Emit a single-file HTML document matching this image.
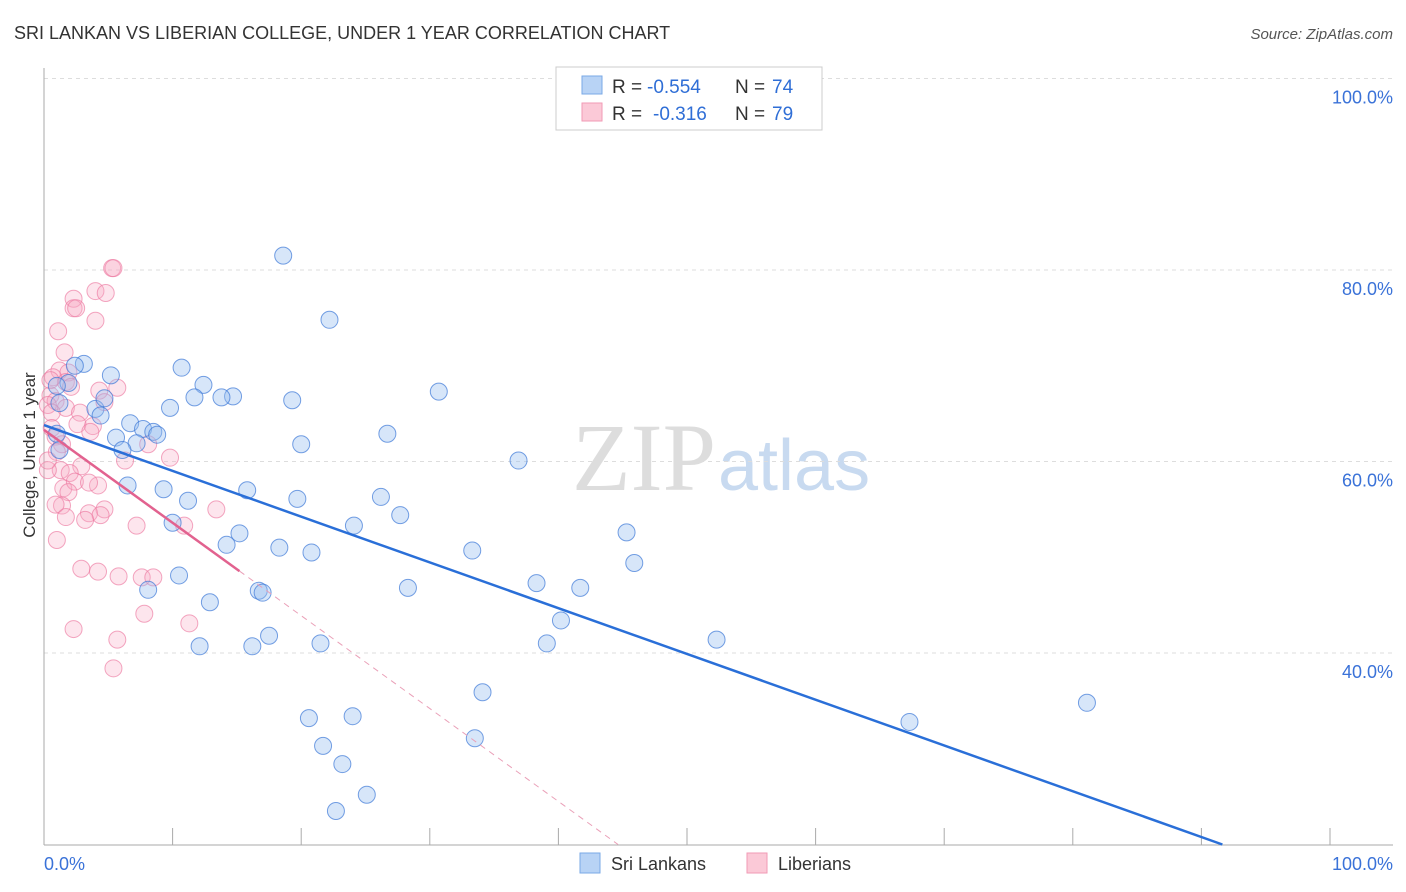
<!DOCTYPE html>
<html><head><meta charset="utf-8"><style>
body{margin:0;background:#fff;font-family:"Liberation Sans",sans-serif;}
svg{display:block}
</style></head><body>
<svg id="chart" width="1406" height="892">
<text x="14" y="39" font-size="18" fill="#333">SRI LANKAN VS LIBERIAN COLLEGE, UNDER 1 YEAR CORRELATION CHART</text>
<text x="1393" y="39" font-size="15" fill="#555" font-style="italic" text-anchor="end">Source: ZipAtlas.com</text>
<text x="716" y="490" font-size="96" fill="#ddd" text-anchor="end" font-family="Liberation Serif,serif">ZIP</text>
<text x="718" y="490" font-size="72" fill="#c8daf0">atlas</text>
<g id="grid"></g><g id="pts"></g><g id="lines"></g>
<text x="35" y="455" font-size="17" fill="#333" text-anchor="middle" transform="rotate(-90 35 455)">College, Under 1 year</text>
<g>
<rect x="556" y="67" width="266" height="63" fill="#fff" stroke="#ccc"/>
<rect x="582" y="76" width="20" height="18" fill="#b8d3f5" stroke="#7aa8e6"/>
<rect x="582" y="103" width="20" height="18" fill="#fbc9d7" stroke="#f29ab5"/>
<text x="612" y="93" font-size="19" fill="#333">R =</text>
<text x="647" y="93" font-size="19" fill="#2f6ed6">-0.554</text>
<text x="735" y="93" font-size="19" fill="#333">N =</text>
<text x="772" y="93" font-size="19" fill="#2f6ed6">74</text>
<text x="612" y="120" font-size="19" fill="#333">R =</text>
<text x="653" y="120" font-size="19" fill="#2f6ed6">-0.316</text>
<text x="735" y="120" font-size="19" fill="#333">N =</text>
<text x="772" y="120" font-size="19" fill="#2f6ed6">79</text>
</g>
<g>
<rect x="580" y="853" width="20" height="20" fill="#b8d3f5" stroke="#7aa8e6"/>
<text x="611" y="870" font-size="18" fill="#333">Sri Lankans</text>
<rect x="747" y="853" width="20" height="20" fill="#fbc9d7" stroke="#f29ab5"/>
<text x="778" y="870" font-size="18" fill="#333">Liberians</text>
</g>
</svg>
<script>
const yTicks=[40,60,80,100];
const xTickLabels=["0.0%","100.0%"];
const blueX=[18.6,22.2,10.7,12.4,14.7,13.8,11.7,9.8,19.3,30.7,26.7,20.0,36.9,5.2,3.1,2.4,1.9,1.0,1.2,4.0,4.4,4.7,5.6,6.7,7.7,8.5,8.8,7.2,6.1,6.5,1.0,1.2,9.3,15.8,11.2,19.7,26.2,24.1,27.7,10.0,15.2,14.2,18.3,20.8,33.3,45.3,45.9,10.5,8.1,16.7,17.0,28.3,38.3,41.7,40.2,12.9,39.1,52.3,17.5,16.2,12.1,21.5,34.1,20.6,24.0,21.7,23.2,33.5,67.3,81.1,25.1,22.7];
const blueY=[81.5,74.8,69.8,68.0,66.8,66.7,66.7,65.6,66.4,67.3,62.9,61.8,60.1,69.0,70.2,70.0,68.2,67.9,66.1,65.5,64.8,66.6,62.5,64.0,63.4,63.1,62.8,61.9,61.2,57.5,62.9,61.2,57.1,57.0,55.9,56.1,56.3,53.3,54.4,53.6,52.5,51.3,51.0,50.5,50.7,52.6,49.4,48.1,46.6,46.5,46.3,46.8,47.3,46.8,43.4,45.3,41.0,41.4,41.8,40.7,40.7,41.0,35.9,33.2,33.4,30.3,28.4,31.1,32.8,34.8,25.2,23.5];
const pinkX=[5.3,5.4,4.0,4.8,2.3,2.3,2.5,4.0,1.1,1.6,1.2,1.9,0.7,1.7,2.1,5.7,4.3,0.5,0.9,4.7,1.7,2.8,0.3,0.6,3.8,2.6,0.6,0.9,3.6,8.1,1.4,9.8,6.3,2.9,1.0,1.3,2.0,4.2,1.5,2.4,1.9,3.5,4.7,1.4,0.9,3.5,4.4,1.7,3.2,13.4,7.2,10.9,1.0,2.9,4.2,5.8,7.6,8.5,7.8,11.3,2.3,5.7,5.4,0.3,0.3,0.5];
const pinkY=[80.2,80.2,77.8,77.6,77.0,76.0,76.0,74.7,73.6,71.4,69.5,69.3,68.8,68.3,67.8,67.7,67.4,66.9,66.3,66.2,65.6,65.1,65.9,65.1,63.7,63.9,63.5,62.6,63.1,61.8,61.8,60.4,60.1,59.5,61.0,59.1,58.8,57.5,57.2,57.9,56.8,57.8,55.0,55.4,55.5,54.6,54.4,54.2,53.9,55.0,53.3,53.3,51.8,48.8,48.5,48.0,47.9,47.9,44.1,43.1,42.5,41.4,38.4,59.1,60.1,68.5];
const blueFit=[63.8,-0.478], pinkFit=[63.3,-0.97];
const X0=44,XS=12.86,Y0=1036,YS=9.575;
const sx=v=>X0+v*XS, sy=v=>Y0-v*YS;
const NS="http://www.w3.org/2000/svg";
function mk(t,a,p){const e=document.createElementNS(NS,t);for(const k in a)e.setAttribute(k,a[k]);p.appendChild(e);return e;}
const grid=document.getElementById('grid');
yTicks.forEach(v=>{
 const l=mk('line',{x1:44,x2:1393,y1:sy(v),y2:sy(v),stroke:'#ddd','stroke-dasharray':'4,4'},grid);
 
 
 const t=mk('text',{x:1393,y:sy(v)+25,'font-size':18,fill:'#3a72d8','text-anchor':'end'},grid);
 t.textContent=v.toFixed(1)+'%';
 
 
});
const ax=mk('line',{x1:44,x2:44,y1:68,y2:845,stroke:'#aaa'},grid);


const bx=mk('line',{x1:44,x2:1393,y1:845,y2:845,stroke:'#aaa'},grid);


for(let i=0;i<=10;i++){const t=mk('line',{x1:sx(i*10),x2:sx(i*10),y1:828,y2:845,stroke:'#aaa'},grid);
 
 }
xTickLabels.forEach((s,i)=>{const t=mk('text',{x:i?1393:44,y:870,'font-size':18,fill:'#3a72d8','text-anchor':i?'end':'start'},grid);t.textContent=s;
 
 });
const pts=document.getElementById('pts');
pinkX.forEach((x,i)=>{const c=mk('circle',{cx:sx(x),cy:sy(pinkY[i]),r:8.5,fill:'rgba(248,170,195,0.3)',stroke:'rgba(236,120,160,0.65)','stroke-width':1},pts);
 
 });
blueX.forEach((x,i)=>{const c=mk('circle',{cx:sx(x),cy:sy(blueY[i]),r:8.5,fill:'rgba(150,190,240,0.38)',stroke:'rgba(60,120,215,0.7)','stroke-width':1},pts);
 
 });
const lines=document.getElementById('lines');
const bEnd=(20-blueFit[0])/blueFit[1];
const bl=mk('line',{x1:sx(0),y1:sy(blueFit[0]),x2:sx(bEnd),y2:sy(20),stroke:'#2a6fd8','stroke-width':2.5},lines);


const pl=mk('line',{x1:sx(0),y1:sy(pinkFit[0]),x2:sx(15.2),y2:sy(pinkFit[0]+pinkFit[1]*15.2),stroke:'#e2628f','stroke-width':2.5},lines);


const pEnd=(20-pinkFit[0])/pinkFit[1];
const pd=mk('line',{x1:sx(15.2),y1:sy(pinkFit[0]+pinkFit[1]*15.2),x2:sx(pEnd),y2:sy(20),stroke:'#eaa0b8','stroke-width':1,'stroke-dasharray':'6,5'},lines);


</script>
</body></html>
